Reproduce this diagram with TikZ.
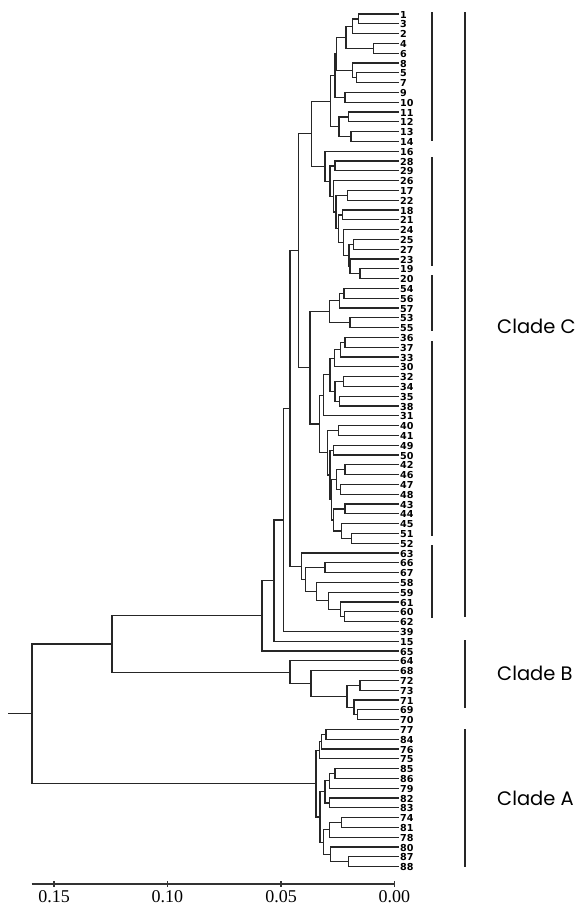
\documentclass[tikz,border=0pt]{standalone}
\usepackage{fontspec}
\usetikzlibrary{calc}
\newfontfamily\leaffont{DejaVu Sans}
\newfontfamily\cladefont{Poppins}
\newfontfamily\tickfont{Liberation Serif}
\newcommand\jn[4]{%
  \coordinate (m#1) at ($(#3)!0.5!(#4)$);
  \coordinate (x#1) at (#2,0);
  \coordinate (#1) at (x#1 |- m#1);
  \draw[br] (#1) |- (#3);
  \draw[br] (#1) |- (#4);
}
\tikzset{
  br/.style={line width=1.2pt, black!85, line cap=rect},
  leaflab/.style={anchor=west, inner sep=0pt, font=\leaffont\bfseries\fontsize{9.6}{10}\selectfont},
  cladelab/.style={anchor=west, inner sep=0pt, font=\cladefont\fontsize{19.5}{21}\selectfont},
  ticklab/.style={anchor=north, inner sep=0pt, font=\tickfont\fontsize{18}{20}\selectfont},
  bar/.style={line width=2.3pt, black!85},
  axisline/.style={line width=1.1pt, black!80},
}
\begin{document}
\begin{tikzpicture}[x=1pt, y=-1pt]
\useasboundingbox (0,0) rectangle (584,906);
% leaves
\foreach \lab [count=\i] in {1,3,2,4,6,8,5,7,9,10,11,12,13,14,16,28,29,26,17,22,18,21,24,25,27,23,19,20,54,56,57,53,55,36,37,33,30,32,34,35,38,31,40,41,49,50,42,46,47,48,43,44,45,51,52,63,66,67,58,59,61,60,62,39,15,65,64,68,72,73,71,69,70,77,84,76,75,85,86,79,82,83,74,81,78,80,87,88}{
  \coordinate (L\lab) at (398,{14+(\i-1)*9.8});
  \node[leaflab] (T\lab) at ($(L\lab)+(2,0.6)$) {\lab};
}
% group 1-14
\jn{a13}{358.3}{L1}{L3}
\jn{a132}{352.7}{a13}{L2}
\jn{a46}{373.3}{L4}{L6}
\jn{aAB}{346}{a132}{a46}
\jn{a57}{356.7}{L5}{L7}
\jn{a857}{352.7}{L8}{a57}
\jn{aABC}{336.7}{aAB}{a857}
\jn{a910}{345}{L9}{L10}
\jn{aABCD}{335}{aABC}{a910}
\jn{a1112}{348.3}{L11}{L12}
\jn{a1314}{351}{L13}{L14}
\jn{aE}{339}{a1112}{a1314}
\jn{aAE}{330.7}{aABCD}{aE}
% group 16-20
\jn{b2829}{335}{L28}{L29}
\jn{b1722}{347.3}{L17}{L22}
\jn{b1821}{342.7}{L18}{L21}
\jn{b2527}{353.3}{L25}{L27}
\jn{b1920}{360}{L19}{L20}
\jn{b23}{350}{L23}{b1920}
\jn{bR4}{349}{b2527}{b23}
\jn{bR3}{343.3}{L24}{bR4}
\jn{bR2}{338.5}{b1821}{bR3}
\jn{bR1}{336}{b1722}{bR2}
\jn{bR0}{333.5}{L26}{bR1}
\jn{bG}{330}{b2829}{bR0}
\jn{b16}{325}{L16}{bG}
\jn{cTop}{311.7}{aAE}{b16}
% group 54-55
\jn{c5456}{344}{L54}{L56}
\jn{c57}{339.3}{c5456}{L57}
\jn{c5355}{350}{L53}{L55}
\jn{cG5}{329.3}{c57}{c5355}
% group 36-52
\jn{d3637}{345}{L36}{L37}
\jn{d33}{340.7}{d3637}{L33}
\jn{d30}{334.3}{d33}{L30}
\jn{d3234}{343.3}{L32}{L34}
\jn{d3538}{339.3}{L35}{L38}
\jn{dP2}{335}{d3234}{d3538}
\jn{dP3}{330}{d30}{dP2}
\jn{d31}{323.3}{dP3}{L31}
\jn{d4041}{338.3}{L40}{L41}
\jn{d4950}{333.3}{L49}{L50}
\jn{d4246}{345}{L42}{L46}
\jn{d4748}{340.7}{L47}{L48}
\jn{dT}{336.7}{d4246}{d4748}
\jn{d4344}{345}{L43}{L44}
\jn{d5152}{351.7}{L51}{L52}
\jn{d45}{341.7}{L45}{d5152}
\jn{dU}{333.5}{d4344}{d45}
\jn{dS}{331.7}{dT}{dU}
\jn{dR}{330}{d4950}{dS}
\jn{dQ}{327.3}{d4041}{dR}
\jn{dAll}{319.3}{d31}{dQ}
\jn{cMid}{310}{cG5}{dAll}
\jn{cUp}{298.3}{cTop}{cMid}
% group 63-62
\jn{e6667}{325}{L66}{L67}
\jn{e6062}{344.3}{L60}{L62}
\jn{e61}{340.7}{L61}{e6062}
\jn{e59}{328.3}{L59}{e61}
\jn{e58}{316.7}{L58}{e59}
\jn{eB}{305.7}{e6667}{e58}
\jn{e63}{301.7}{L63}{eB}
\jn{cC}{290}{cUp}{e63}
\jn{c39}{283.3}{cC}{L39}
\jn{c15}{274}{c39}{L15}
\jn{c65}{262}{c15}{L65}
% clade B
\jn{f7273}{360}{L72}{L73}
\jn{f6970}{357.7}{L69}{L70}
\jn{f71}{354}{L71}{f6970}
\jn{f72}{347}{f7273}{f71}
\jn{f68}{311}{L68}{f72}
\jn{fB}{290}{L64}{f68}
\jn{gCB}{112}{c65}{fB}
% clade A
\jn{h7784}{326}{L77}{L84}
\jn{h76}{321.7}{h7784}{L76}
\jn{h75}{319.3}{h76}{L75}
\jn{h8586}{335}{L85}{L86}
\jn{h79}{329.3}{h8586}{L79}
\jn{h8283}{329.3}{L82}{L83}
\jn{hX}{325}{h79}{h8283}
\jn{h7481}{341.7}{L74}{L81}
\jn{h78}{329.3}{h7481}{L78}
\jn{h8788}{348.3}{L87}{L88}
\jn{h80}{330.7}{L80}{h8788}
\jn{hY}{323.3}{h78}{h80}
\jn{hXY}{320}{hX}{hY}
\jn{hA}{316}{h75}{hXY}
\jn{root}{32}{gCB}{hA}
\coordinate (stubx) at (9,0);
\coordinate (stub) at (stubx |- root);
\draw[br] (root) -- (stub);
% bars
\draw[bar] (432,12) -- (432,141);
\draw[bar] (432,157) -- (432,266);
\draw[bar] (432,275) -- (432,331);
\draw[bar] (432,341) -- (432,536);
\draw[bar] (432,545) -- (432,618);
\draw[bar] (465,12) -- (465,617);
\draw[bar] (465,640) -- (465,708);
\draw[bar] (465,729) -- (465,867);
% clade labels
\node[cladelab] (cladeC) at (497,326) {Clade C};
\node[cladelab] (cladeB) at (497,673) {Clade B};
\node[cladelab] (cladeA) at (497,798) {Clade A};
% axis
\coordinate (ax0) at (31.7,884);
\coordinate (ax1) at (394.3,884);
\draw[axisline] (ax0) -- (ax1);
\foreach \xv/\lab in {54/0.15,167.3/0.10,281/0.05,394.3/0.00}{
  \draw[axisline] (\xv,881) -- (\xv,887);
  \node[ticklab] (tick\lab) at (\xv,890) {\lab};
}
\end{tikzpicture}
\end{document}
